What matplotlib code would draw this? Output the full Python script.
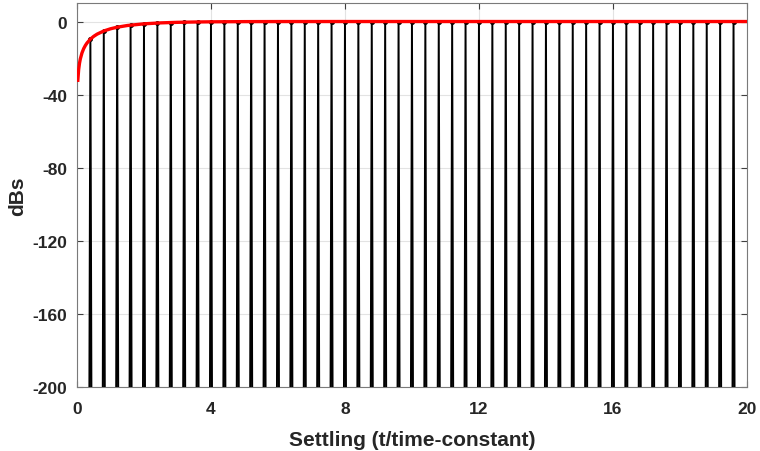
import numpy as np
import matplotlib
matplotlib.use("Agg")
import matplotlib.pyplot as plt

plt.rcParams['font.family'] = ['Liberation Sans', 'DejaVu Sans']
plt.rcParams['axes.unicode_minus'] = False

# sampled settling values (dB) every 0.4 time-constants
sample_times = np.round(np.arange(1, 50) * 0.4, 1)
sample_db = [-9.64, -5.18, -3.11, -1.96, -1.26, -0.83, -0.55, -0.36, -0.24, -0.16,
             -0.11, -0.07, -0.05, -0.03, -0.02, -0.01, -0.01] + [0.0] * 32

# continuous settling envelope
env_t = [0.025, 0.05, 0.075, 0.1, 0.15, 0.2, 0.25, 0.3, 0.4, 0.5, 0.6, 0.8, 1.0,
         1.2, 1.5, 2.0, 2.5, 3.0, 3.5, 4.0, 5.0, 6.0, 8.0, 20.0]
env_db = [-32.15, -26.24, -22.82, -20.43, -17.12, -14.83, -13.10, -11.73, -9.64,
          -8.10, -6.91, -5.18, -3.98, -3.11, -2.19, -1.26, -0.74, -0.44, -0.27,
          -0.16, -0.06, -0.02, 0.0, 0.0]

floor_db = -200
half_w = 0.03

fig = plt.figure(figsize=(7.6, 4.52), dpi=100)
ax = fig.add_axes([0.1013, 0.1416, 0.8815, 0.849])

# each sample drawn as a narrow spike from the floor
xs, ys = [], []
for t, v in zip(sample_times, sample_db):
    xs += [t - half_w, t, t + half_w, np.nan]
    ys += [floor_db, v, floor_db, np.nan]
ax.plot(xs, ys, color='black', lw=1.4, zorder=3)
ax.plot(sample_times, sample_db, 'o', color='black', ms=2.5, zorder=4)

ax.plot(env_t, env_db, color='red', lw=2.4, zorder=5)

ax.set_xlim(0, 20)
ax.set_ylim(-200, 10)
ax.set_xticks([0, 4, 8, 12, 16, 20])
ax.set_yticks([-200, -160, -120, -80, -40, 0])
ax.grid(True, color='#e3e3e3', lw=0.8)
ax.set_axisbelow(True)
ax.tick_params(direction='in', top=True, right=True, length=4, width=0.8,
               colors='#404040', labelcolor='#262626', labelsize=12.5, pad=7)
ax.tick_params(axis='x', pad=10)
for lab in ax.get_xticklabels() + ax.get_yticklabels():
    lab.set_fontweight('bold')
for sp in ax.spines.values():
    sp.set_color('#7a7a7a')
    sp.set_linewidth(0.8)

ax.set_xlabel('Settling (t/time-constant)', fontsize=15, fontweight='bold',
              color='#262626', labelpad=10)
ax.set_ylabel('dBs', fontsize=15, fontweight='bold', color='#262626', labelpad=4)

fig.savefig('out.png', dpi=100)
